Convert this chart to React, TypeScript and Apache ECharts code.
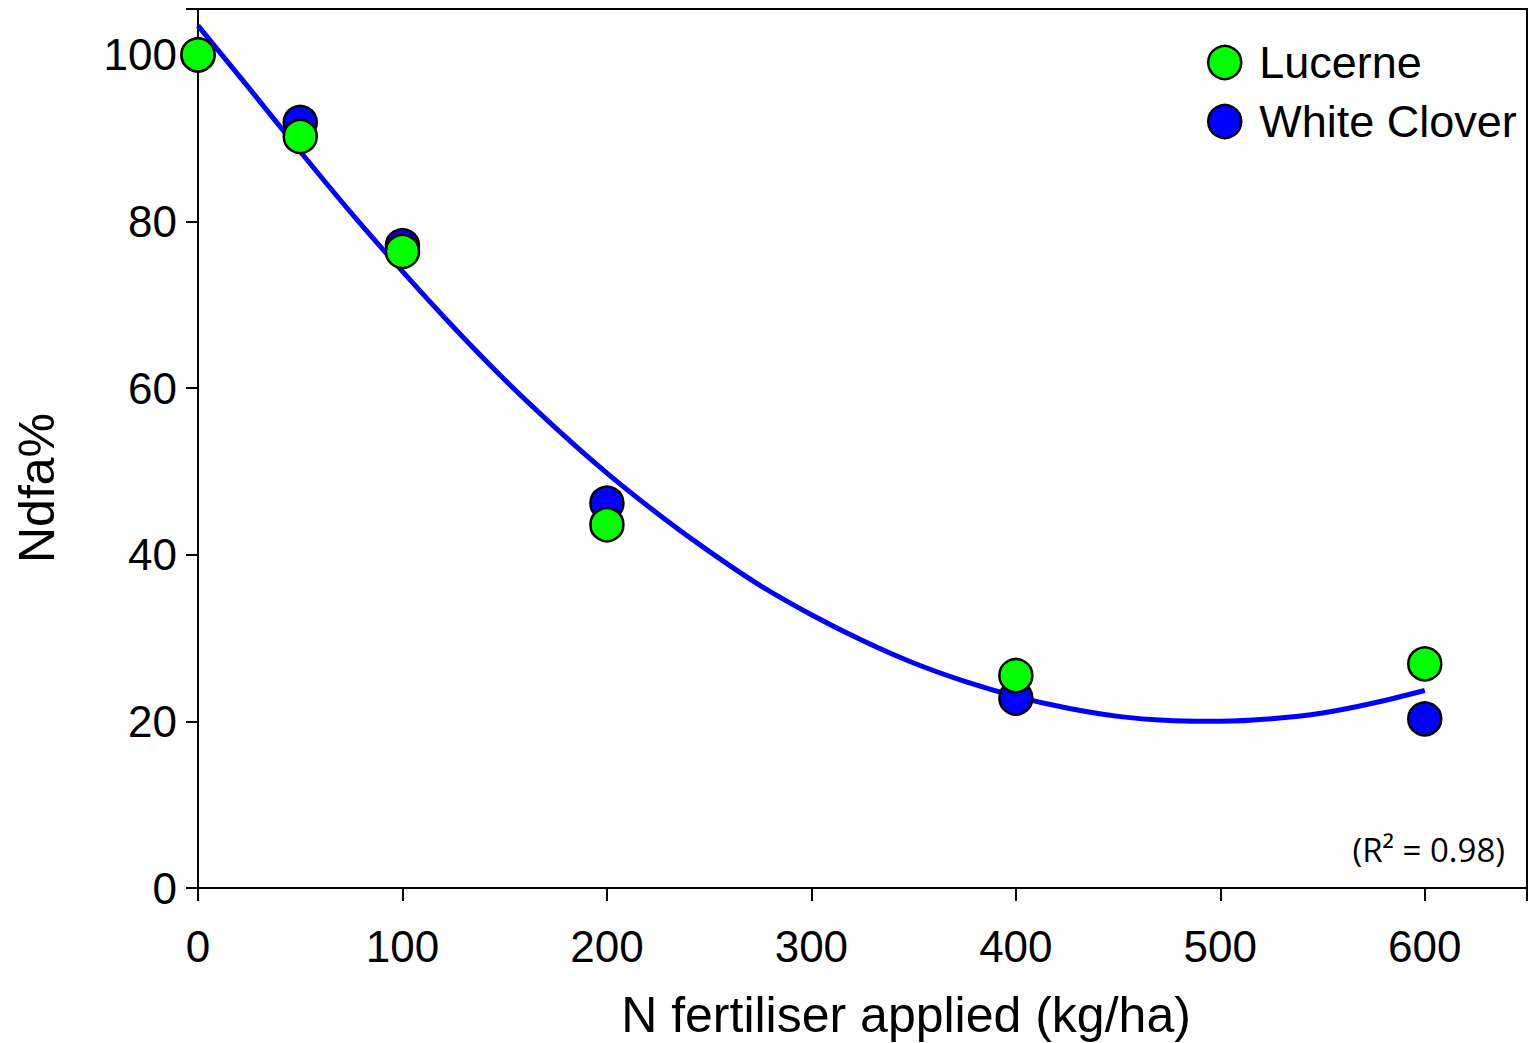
import React, { useEffect, useRef } from "react";
import * as echarts from "echarts";

const doses = [0, 50, 100, 200, 400, 600];
const lucerne = [100.0, 90.2, 76.4, 43.6, 25.5, 26.9];
const whiteClover = [100.0, 91.9, 77.1, 46.2, 22.8, 20.3];

const fitX = [0, 25, 50, 75, 100, 125, 150, 175, 200, 225, 250, 275, 300, 325, 350, 375, 400, 425, 450, 475, 500, 525, 550, 575, 600];
const fitY = [103.5, 96.0, 88.4, 81.0, 74.0, 67.3, 61.0, 55.2, 49.8, 44.9, 40.4, 36.3, 32.8, 29.7, 27.0, 24.8, 23.0, 21.6, 20.6, 20.1, 20.0, 20.3, 21.0, 22.2, 23.7];

const xTitle = "N fertiliser applied (kg/ha)";
const yTitle = "Ndfa%";
const r2Text = "(R² = 0.98)";

export default function App() {
  const ref = useRef<HTMLDivElement>(null);
  useEffect(() => {
    if (!ref.current) return;
    const chart = echarts.init(ref.current, undefined, { renderer: "svg" });
    const font = "'Liberation Sans', Arial, sans-serif";
    const markerStyle = (c: string) => ({ color: c, borderColor: "#000", borderWidth: 2.5, opacity: 1 });
    chart.setOption({
      animation: false,
      backgroundColor: "#fff",
      grid: {
        left: 198, right: 2, top: 9, bottom: 155,
        outerBoundsMode: "none",
        containLabel: false,
        show: true, borderColor: "#000", borderWidth: 2, backgroundColor: "transparent",
      },
      legend: {
        data: ["Lucerne", "White Clover"],
        orient: "vertical",
        left: 1202,
        top: 35,
        itemWidth: 33,
        itemHeight: 33,
        itemGap: 14,
        icon: "circle",
        itemStyle: { borderColor: "#000", borderWidth: 2.5, opacity: 1 },
        textStyle: { fontFamily: font, fontSize: 45, color: "#000", padding: [0, 0, 0, 13] },
      },
      xAxis: {
        type: "value",
        min: 0, max: 650, interval: 100,
        axisLine: { show: true, onZero: false, lineStyle: { color: "#000", width: 2 } },
        axisTick: { show: true, inside: false, length: 13, lineStyle: { color: "#000", width: 2 } },
        axisLabel: {
          fontFamily: font, fontSize: 44, color: "#000", margin: 36,
          formatter: (v: number) => (v <= 600 ? String(v) : ""),
        },
        splitLine: { show: false },
      },
      yAxis: {
        type: "value",
        min: 0, max: 105.5, interval: 20,
        axisLine: { show: true, onZero: false, lineStyle: { color: "#000", width: 2 } },
        axisTick: { show: true, inside: false, length: 12, lineStyle: { color: "#000", width: 2 } },
        axisLabel: {
          fontFamily: font, fontSize: 44, color: "#000", margin: 21,
          formatter: (v: number) => (v <= 100 ? String(v) : ""),
        },
        splitLine: { show: false },
      },
      series: [
        {
          name: "fit",
          type: "line",
          data: fitX.map((x, i) => [x, fitY[i]]),
          smooth: 0.3,
          showSymbol: false,
          symbol: "none",
          lineStyle: { color: "#0000ff", width: 5 },
          z: 1,
        },
        {
          name: "White Clover",
          type: "scatter",
          data: doses.map((x, i) => [x, whiteClover[i]]),
          symbol: "circle",
          symbolSize: 33,
          itemStyle: markerStyle("#0000ff"),
          z: 2,
        },
        {
          name: "Lucerne",
          type: "scatter",
          data: doses.map((x, i) => [x, lucerne[i]]),
          symbol: "circle",
          symbolSize: 33,
          itemStyle: markerStyle("#00ff00"),
          z: 3,
        },
      ],
      graphic: [
        {
          type: "text",
          x: 906,
          y: 1015,
          style: {
            text: xTitle,
            fontFamily: font,
            fontSize: 50,
            fill: "#000",
            align: "center",
            verticalAlign: "middle",
          },
        },
        {
          type: "text",
          x: 37,
          y: 488,
          rotation: Math.PI / 2,
          style: {
            text: yTitle,
            fontFamily: font,
            fontSize: 50,
            fill: "#000",
            align: "center",
            verticalAlign: "middle",
          },
        },
        {
          type: "text",
          right: 24,
          top: 833,
          style: {
            text: r2Text,
            fontFamily: "'Open Sans', 'Noto Sans', sans-serif",
            fontSize: 33,
            fill: "#000",
          },
        },
      ],
    });
    return () => chart.dispose();
  }, []);
  return (
    <div
      ref={ref}
      style={{ position: "fixed", left: 0, top: 0, width: 1529, height: 1043 }}
    />
  );
}
